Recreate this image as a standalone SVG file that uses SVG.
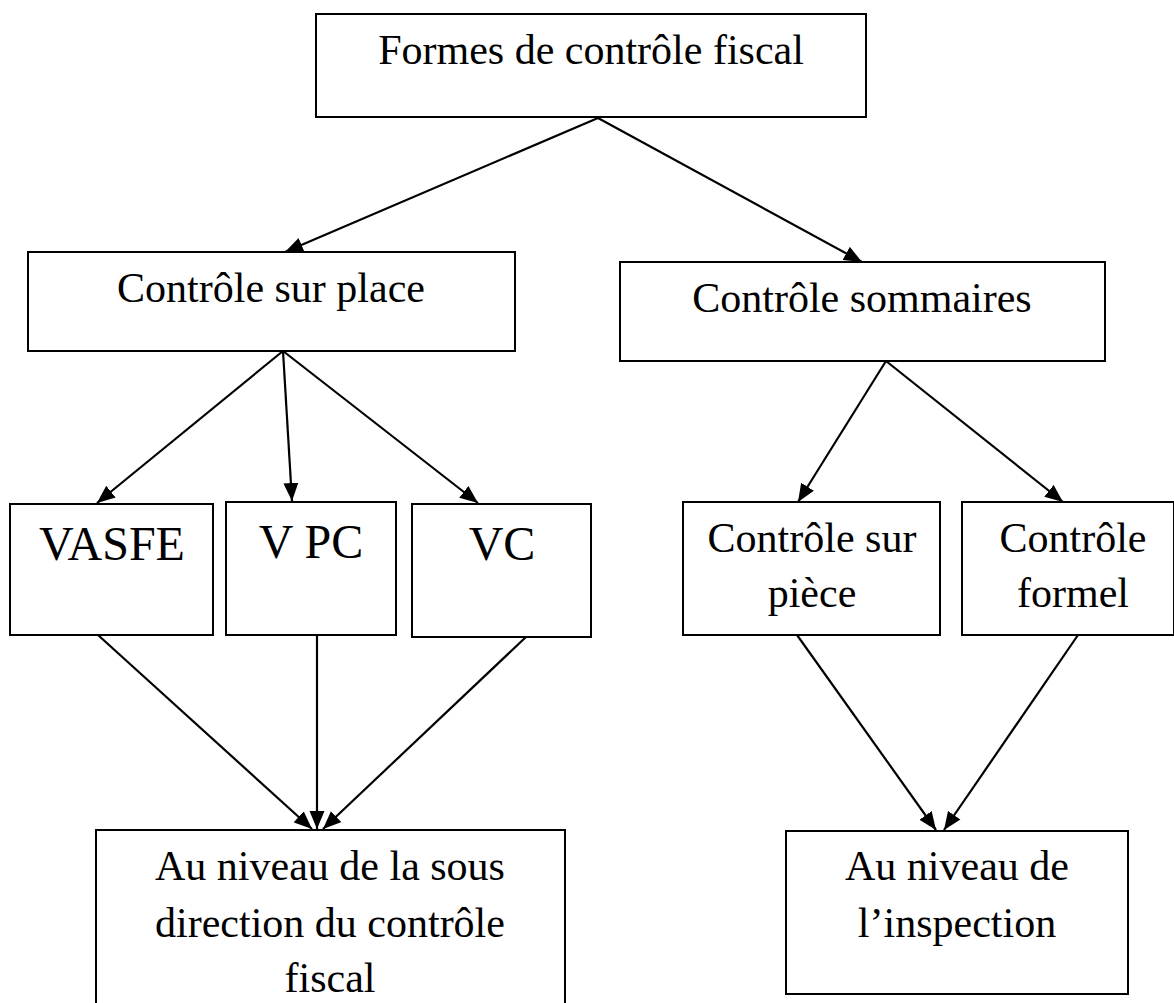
<svg xmlns="http://www.w3.org/2000/svg" width="1174" height="1003" viewBox="0 0 1174 1003">
<style>
.box{fill:#fff;stroke:#000;stroke-width:2}
.t{font-family:"Liberation Serif","Times New Roman",serif;font-size:42px;fill:#000;text-anchor:middle}
.big{font-size:48px}
.c{stroke:#000;stroke-width:2.2;fill:none;marker-end:url(#ah)}
</style>
<defs>
<marker id="ah" markerUnits="userSpaceOnUse" markerWidth="20" markerHeight="16" refX="18" refY="8" orient="auto">
<path d="M0,0.5 L18,8 L0,15.5 Z" fill="#000"/>
</marker>
</defs>
<rect width="1174" height="1003" fill="#fff"/>
<g id="connectors">
<line class="c" x1="598" y1="118" x2="285" y2="252"/>
<line class="c" x1="598" y1="118" x2="862" y2="262"/>
<line class="c" x1="283" y1="351" x2="97" y2="503"/>
<line class="c" x1="283" y1="351" x2="292" y2="501"/>
<line class="c" x1="283" y1="351" x2="478" y2="503"/>
<line class="c" x1="886" y1="361" x2="798" y2="502"/>
<line class="c" x1="886" y1="361" x2="1063" y2="502"/>
<line class="c" x1="98" y1="635" x2="312" y2="829"/>
<line class="c" x1="317" y1="635" x2="317" y2="829"/>
<line class="c" x1="526" y1="637" x2="323" y2="829"/>
<line class="c" x1="797" y1="635" x2="936" y2="830"/>
<line class="c" x1="1078" y1="635" x2="944" y2="830"/>
</g>
<g id="n-formes">
<rect class="box" x="316" y="14" width="550" height="103"/>
<text class="t" x="591" y="64">Formes de contrôle fiscal</text>
</g>
<g id="n-surplace">
<rect class="box" x="28" y="252" width="487" height="99"/>
<text class="t" x="271" y="302">Contrôle sur place</text>
</g>
<g id="n-sommaires">
<rect class="box" x="620" y="262" width="485" height="99"/>
<text class="t" x="862" y="312">Contrôle sommaires</text>
</g>
<g id="n-vasfe">
<rect class="box" x="10" y="504" width="203" height="131"/>
<text class="t big" x="112" y="560">VASFE</text>
</g>
<g id="n-vpc">
<rect class="box" x="226" y="502" width="170" height="133"/>
<text class="t big" x="311" y="558">V PC</text>
</g>
<g id="n-vc">
<rect class="box" x="412" y="504" width="179" height="133"/>
<text class="t big" x="502" y="560">VC</text>
</g>
<g id="n-piece">
<rect class="box" x="683" y="502" width="257" height="133"/>
<text class="t" x="812" y="552">Contrôle sur</text>
<text class="t" x="812" y="607">pièce</text>
</g>
<g id="n-formel">
<rect class="box" x="962" y="502" width="212" height="133"/>
<text class="t" x="1073" y="552">Contrôle</text>
<text class="t" x="1073" y="607">formel</text>
</g>
<g id="n-sousdirection">
<rect class="box" x="96" y="830" width="469" height="185"/>
<text class="t" x="330" y="880">Au niveau de la sous</text>
<text class="t" x="330" y="937">direction du contrôle</text>
<text class="t" x="330" y="992">fiscal</text>
</g>
<g id="n-inspection">
<rect class="box" x="786" y="831" width="342" height="163"/>
<text class="t" x="957" y="880">Au niveau de</text>
<text class="t" x="957" y="937">l’inspection</text>
</g>
</svg>
